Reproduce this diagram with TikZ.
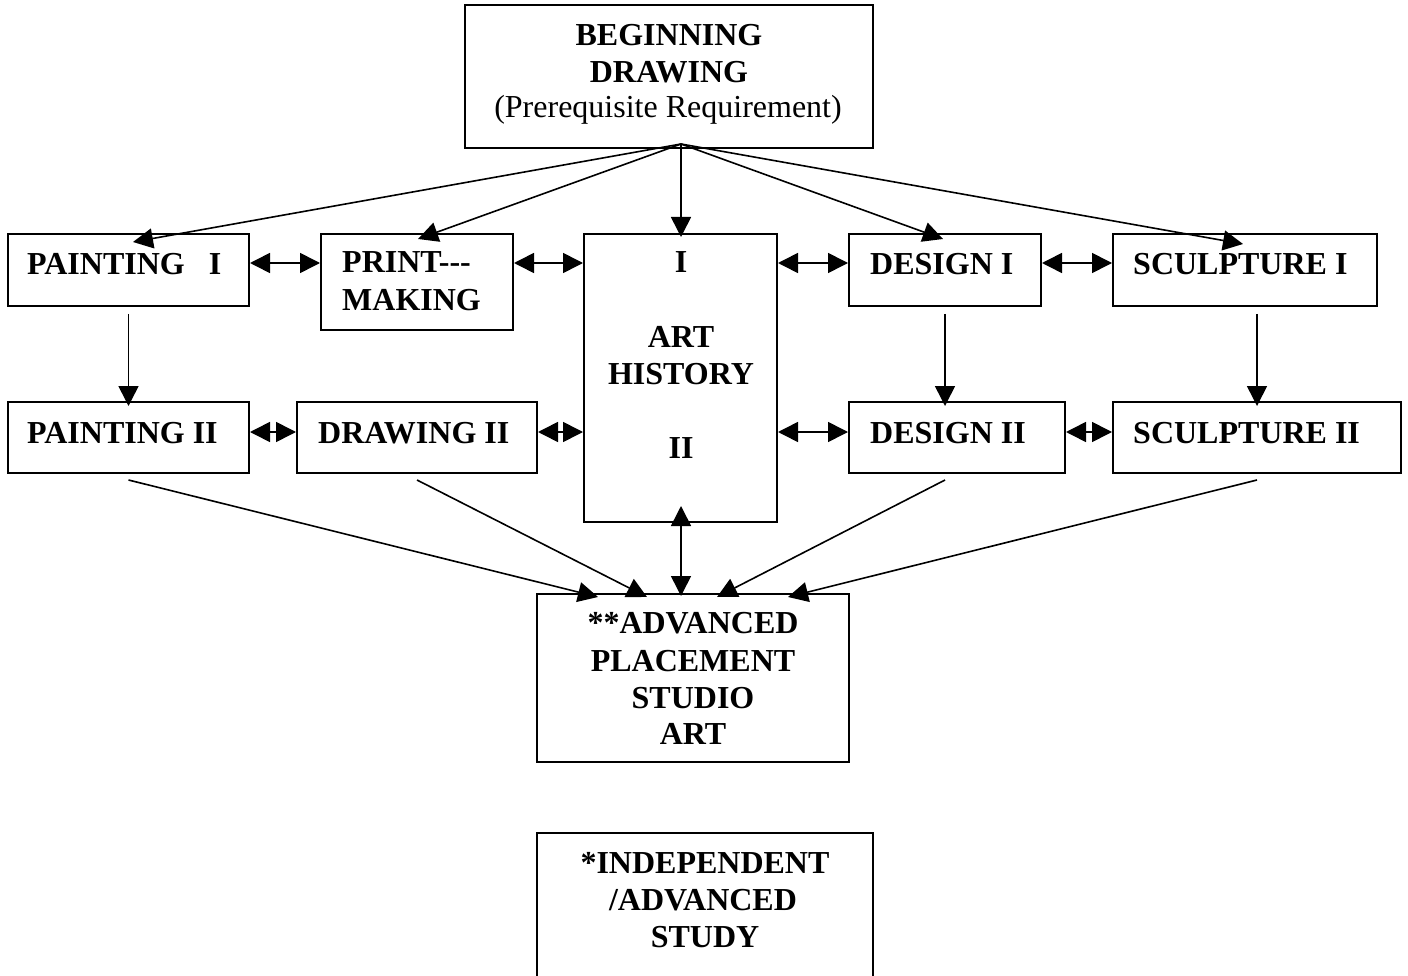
\documentclass[tikz,border=0pt]{standalone}
\usepackage{fontspec}
\setmainfont{Liberation Serif}
\usetikzlibrary{arrows.meta,calc}
\tikzset{
  box/.style={draw, line width=2pt, inner sep=0pt, rectangle},
  lbl/.style={font=\fontsize{32}{37}\selectfont\bfseries, inner sep=0pt},
  reg/.style={font=\fontsize{32}{37}\selectfont, inner sep=0pt},
  con/.style={line width=1.6pt},
  arr/.style={con, -{Triangle[length=20pt,width=20pt]}},
  dbl/.style={con, {Triangle[length=20pt,width=20pt]}-{Triangle[length=20pt,width=20pt]}}
}
\begin{document}
\begin{tikzpicture}[x=1pt,y=-1pt]
\clip (0,0) rectangle (1408,976);
\fill[white] (0,0) rectangle (1408,976);

% boxes
\node[box, minimum width=408pt, minimum height=143pt] (top) at (669,76.5) {};
\node[box, minimum width=241pt, minimum height=72pt] (p1) at (128.5,270) {};
\node[box, minimum width=192pt, minimum height=96pt] (pm) at (417,282) {};
\node[box, minimum width=193pt, minimum height=288pt] (ah) at (680.5,378) {};
\node[box, minimum width=192pt, minimum height=72pt] (d1) at (945,270) {};
\node[box, minimum width=264pt, minimum height=72pt] (s1) at (1245,270) {};
\node[box, minimum width=241pt, minimum height=71pt] (p2) at (128.5,437.5) {};
\node[box, minimum width=240pt, minimum height=71pt] (dr2) at (417,437.5) {};
\node[box, minimum width=216pt, minimum height=71pt] (d2) at (957,437.5) {};
\node[box, minimum width=288pt, minimum height=71pt] (s2) at (1257,437.5) {};
\node[box, minimum width=312pt, minimum height=168pt] (ap) at (693,678) {};
\node[box, minimum width=336pt, minimum height=200pt] (ind) at (705,933) {};

% texts
\node[lbl, anchor=base] (ta) at (669,45.5) {BEGINNING};
\node[lbl, anchor=base] (tb) at (669,82.5) {DRAWING};
\node[reg, anchor=base] (tc) at (668,117.5) {(Prerequisite Requirement)};
\node[lbl, anchor=base west] (tp1) at (27,275) {PAINTING\ \ \ I};
\node[lbl, anchor=base west] (tpm1) at (342,273) {PRINT{-}{-}{-}};
\node[lbl, anchor=base west] (tpm2) at (342,310) {MAKING};
\node[lbl, anchor=base] (tah1) at (681,273) {I};
\node[lbl, anchor=base] (tah2) at (681,347) {ART};
\node[lbl, anchor=base] (tah3) at (681,384) {HISTORY};
\node[lbl, anchor=base] (tah4) at (681,458) {II};
\node[lbl, anchor=base west] (td1) at (870,275) {DESIGN I};
\node[lbl, anchor=base west] (ts1) at (1133,275) {SCULPTURE I};
\node[lbl, anchor=base west] (tp2) at (27,443) {PAINTING II};
\node[lbl, anchor=base west] (tdr2) at (318,443) {DRAWING II};
\node[lbl, anchor=base west] (td2) at (870,443) {DESIGN II};
\node[lbl, anchor=base west] (ts2) at (1133,443) {SCULPTURE II};
\node[lbl, anchor=base] (tap1) at (693,633) {**ADVANCED};
\node[lbl, anchor=base] (tap2) at (693,671) {PLACEMENT};
\node[lbl, anchor=base] (tap3) at (693,708) {STUDIO};
\node[lbl, anchor=base] (tap4) at (693,744) {ART};
\node[lbl, anchor=base] (tin1) at (705,873) {*INDEPENDENT};
\node[lbl, anchor=base] (tin2) at (703,910) {/ADVANCED};
\node[lbl, anchor=base] (tin3) at (705,947) {STUDY};

% helper coordinates
\coordinate (apex) at (681,144);
\coordinate (r1) at (0,263);
\coordinate (r2) at (0,432);

% from the top box
\draw[arr] (apex) -- ($(p1.north)+(4.5,9)$);
\draw[arr] (apex) -- ($(pm.north)+(1,6)$);
\draw[arr] (apex) -- ($(ah.north)+(0.5,4)$);
\draw[arr] (apex) -- ($(d1.north)+(-2,6)$);
\draw[arr] (apex) -- ($(s1.north)+(-2,11)$);

% horizontal links
\draw[dbl] (p1.east |- r1) -- (pm.west |- r1);
\draw[dbl] (pm.east |- r1) -- (ah.west |- r1);
\draw[dbl] (ah.east |- r1) -- (d1.west |- r1);
\draw[dbl] (d1.east |- r1) -- (s1.west |- r1);
\draw[dbl] (p2.east |- r2) -- (dr2.west |- r2);
\draw[dbl] (dr2.east |- r2) -- (ah.west |- r2);
\draw[dbl] (ah.east |- r2) -- (d2.west |- r2);
\draw[dbl] (d2.east |- r2) -- (s2.west |- r2);

% verticals
\draw[arr] ($(p1.south)+(0,7)$) -- ($(p2.north)+(0,5)$);
\draw[arr] ($(d1.south)+(0,7)$) -- ($(d1.south |- d2.north)+(0,5)$);
\draw[arr] ($(s2.north |- s1.south)+(0,7)$) -- ($(s2.north)+(0,5)$);

% to advanced placement
\draw[arr] ($(p2.south)+(0,6)$) -- ($(ap.north)+(-95,4)$);
\draw[arr] ($(dr2.south)+(0,6)$) -- ($(ap.north)+(-46,4)$);
\draw[dbl] ($(ah.south)+(0.5,-17)$) -- ($(ap.north)+(-12,3)$);
\draw[arr] ($(d2.south)+(-12,6)$) -- ($(ap.north)+(24,4)$);
\draw[arr] ($(s2.south)+(0,6)$) -- ($(ap.north)+(95,4)$);
\end{tikzpicture}
\end{document}
